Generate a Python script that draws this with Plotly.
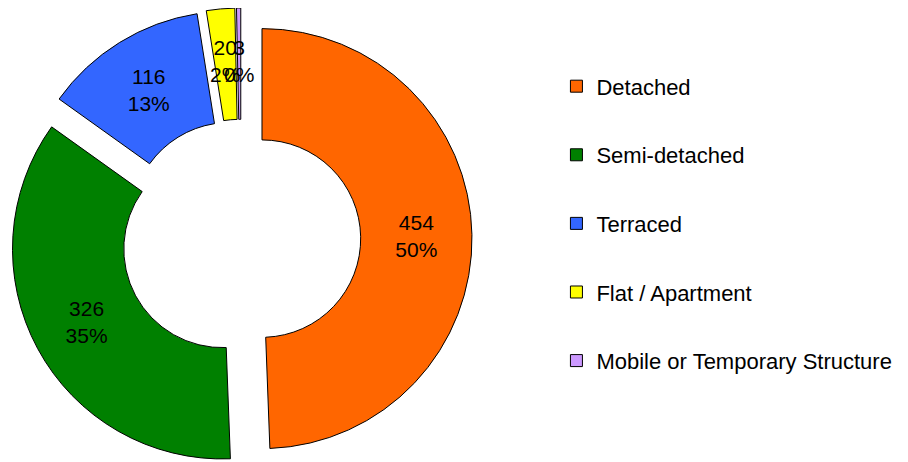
import math
import plotly.graph_objects as go

categories = ["Detached", "Semi-detached", "Terraced", "Flat / Apartment", "Mobile or Temporary Structure"]
counts = [454, 326, 116, 20, 3]
pct_labels = ["50%", "35%", "13%", "2%", "0%"]
colors = ["#FF6600", "#008000", "#3366FF", "#FFFF00", "#CC99FF"]

FONT = "Liberation Sans, Arial, sans-serif"
W, H = 908, 462
PULL = 0.1
HOLE = 0.47
DOM_X = [0, 0.5132]
# slices thinner than this get their label placed at the ring middle (as in the original)
SMALL = 0.05

total = sum(counts)
small = [v / total < SMALL for v in counts]

fig = go.Figure()
fig.add_trace(go.Pie(
    labels=categories,
    values=counts,
    text=pct_labels,
    texttemplate=["" if s else "%{value}<br>%{text}" for s in small],
    textinfo="text",
    textposition=["none" if s else "inside" for s in small],
    insidetextorientation="horizontal",
    textfont=dict(family=FONT, size=21, color="black"),
    marker=dict(colors=colors, line=dict(color="black", width=1)),
    hole=HOLE,
    pull=[PULL] * len(counts),
    sort=False,
    direction="clockwise",
    rotation=0,
    domain=dict(x=DOM_X, y=[0, 1]),
    showlegend=False,
    hoverinfo="label+value+percent",
))

# labels of thin slices, at the middle of the ring along each slice's mid-angle
cx = W * (DOM_X[0] + DOM_X[1]) / 2
cy = H / 2
r = min(W * (DOM_X[1] - DOM_X[0]), H) / 2 / (1 + PULL)
rl = r * (PULL + (1 + HOLE) / 2) + 3
cum = 0
for v, p, s in zip(counts, pct_labels, small):
    mid = 2 * math.pi * (cum + v / 2) / total
    cum += v
    if not s:
        continue
    px = cx + rl * math.sin(mid)
    py = cy - rl * math.cos(mid)
    fig.add_annotation(
        x=px / W, y=1 - py / H, xref="paper", yref="paper",
        text=f"{v}<br>{p}", showarrow=False, xanchor="center", yanchor="middle",
        font=dict(family=FONT, size=21, color="black"),
    )

# legend entries (one group each so spacing can be set)
for name, c in zip(categories, colors):
    fig.add_trace(go.Scatter(
        x=[None], y=[None], mode="markers", name=name, legendgroup=name,
        marker=dict(symbol="square", size=12, color=c, line=dict(color="black", width=1)),
        hoverinfo="skip",
    ))

fig.update_layout(
    width=W, height=H,
    margin=dict(l=0, r=0, t=0, b=0),
    paper_bgcolor="white", plot_bgcolor="white",
    font=dict(family=FONT, size=21, color="black"),
    uniformtext=dict(mode="show", minsize=21),
    xaxis=dict(visible=False), yaxis=dict(visible=False),
    legend=dict(
        x=0.604, xanchor="left", y=0.5338, yanchor="middle",
        font=dict(family=FONT, size=22, color="black"),
        tracegroupgap=37, itemclick=False, itemdoubleclick=False,
    ),
)

fig.write_html("out.html")
